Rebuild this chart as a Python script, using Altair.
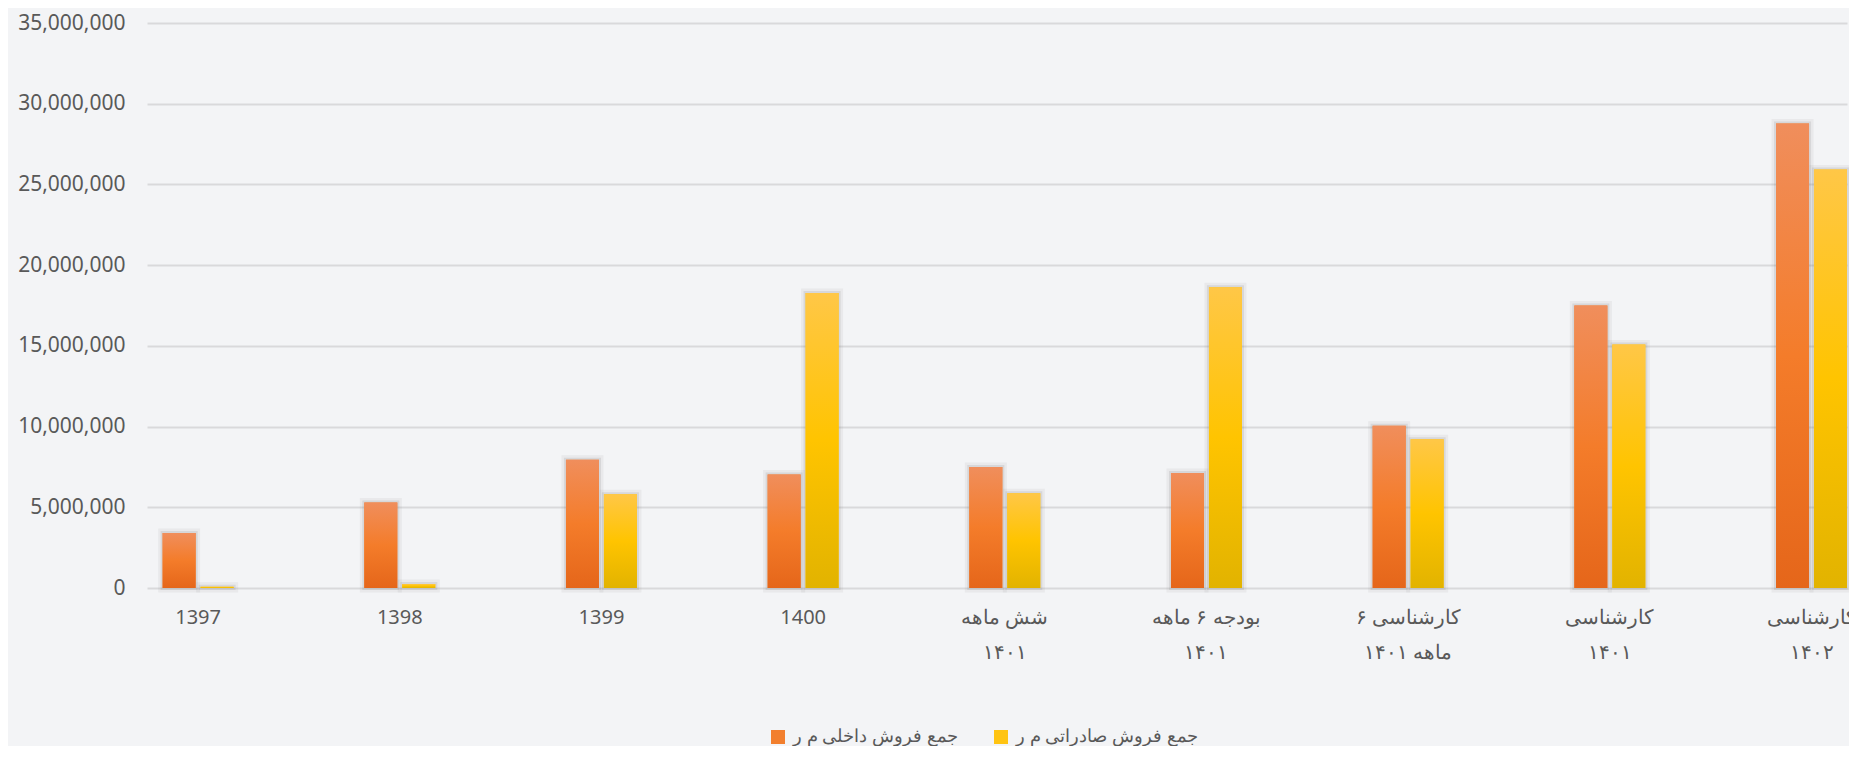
import altair as alt
import pandas as pd

categories = ["1397", "1398", "1399", "1400",
              "شش ماهه|۱۴۰۱", "بودجه ۶ ماهه|۱۴۰۱", "کارشناسی ۶|ماهه ۱۴۰۱",
              "کارشناسی|۱۴۰۱", "کارشناسی|۱۴۰۲"]
domestic = [3400000, 5300000, 7950000, 7030000, 7500000, 7130000, 10050000, 17500000, 28770000]
export = [80000, 250000, 5800000, 18280000, 5870000, 18630000, 9210000, 15080000, 25930000]
series = ["جمع فروش داخلی م ر", "جمع فروش صادراتی م ر"]
colors = ["#F27F2E", "#FFC412"]

rows = []
for c, d, e in zip(categories, domestic, export):
    rows.append({"cat": c, "series": series[0], "value": d})
    rows.append({"cat": c, "series": series[1], "value": e})
df = pd.DataFrame(rows)

x_enc = alt.X(
    "cat:N", sort=categories, title=None,
    scale=alt.Scale(paddingInner=0.648, paddingOuter=0.0387, align=1),
    axis=alt.Axis(labelExpr="split(datum.label, '|')", labelAngle=0,
                  labelFontSize=20, labelColor="#595959", labelFont="Noto Sans",
                  labelPadding=19, labelLineHeight=35, ticks=False, domain=False,
                  grid=False, labelBaseline="top"),
)
y_enc = alt.Y(
    "value:Q", title=None,
    scale=alt.Scale(domain=[0, 35000000], nice=False),
    axis=alt.Axis(values=list(range(0, 35000001, 5000000)), format=",d",
                  labelFontSize=21, labelColor="#595959", labelFont="Noto Sans",
                  labelPadding=22, ticks=False, domain=False,
                  gridColor="#D9D9DB", gridWidth=1.8),
)
xo_enc = alt.XOffset("series:N", scale=alt.Scale(domain=series, paddingInner=0.13, paddingOuter=0))

base = alt.Chart(df)

shadow1 = base.mark_bar(fill="#000000", fillOpacity=0.0, stroke="#6f6f6f",
                        strokeWidth=9, strokeOpacity=0.08).encode(x=x_enc, y=y_enc, xOffset=xo_enc)
shadow2 = base.mark_bar(fill="#000000", fillOpacity=0.0, stroke="#6f6f6f",
                        strokeWidth=4, strokeOpacity=0.15).encode(x=x_enc, y=y_enc, xOffset=xo_enc)

legend_layer = base.mark_bar().encode(
    x=x_enc, y=y_enc, xOffset=xo_enc,
    color=alt.Color("series:N", scale=alt.Scale(domain=series, range=colors),
                    legend=alt.Legend(title=None, orient="none", direction="horizontal",
                                      legendX=622, legendY=705,
                                      symbolType="square", symbolSize=196,
                                      symbolStrokeWidth=0,
                                      labelFontSize=18, labelColor="#595959",
                                      labelFont="Noto Sans", labelOffset=6,
                                      labelLimit=600, columnPadding=34)),
)

grad_dom = alt.Gradient(gradient="linear", x1=0, x2=0, y1=0, y2=1, stops=[
    alt.GradientStop(color="#F08E5C", offset=0),
    alt.GradientStop(color="#F47C2A", offset=0.5),
    alt.GradientStop(color="#E5661A", offset=1),
])
grad_exp = alt.Gradient(gradient="linear", x1=0, x2=0, y1=0, y2=1, stops=[
    alt.GradientStop(color="#FFC747", offset=0),
    alt.GradientStop(color="#FFC400", offset=0.5),
    alt.GradientStop(color="#E2B300", offset=1),
])

dom_layer = base.transform_filter(alt.datum.series == series[0]).mark_bar(color=grad_dom).encode(
    x=x_enc, y=y_enc, xOffset=xo_enc)
exp_layer = base.transform_filter(alt.datum.series == series[1]).mark_bar(color=grad_exp).encode(
    x=x_enc, y=y_enc, xOffset=xo_enc)

chart = alt.layer(shadow1, shadow2, legend_layer, dom_layer, exp_layer).properties(
    width=1700, height=565,
    autosize=alt.AutoSizeParams(type="none"),
    padding={"left": 139, "top": 15, "right": 2, "bottom": 158},
    background="#F3F4F6",
).configure_view(stroke=None)

chart.save("out.html", embed_options={"renderer": "svg", "actions": False})
